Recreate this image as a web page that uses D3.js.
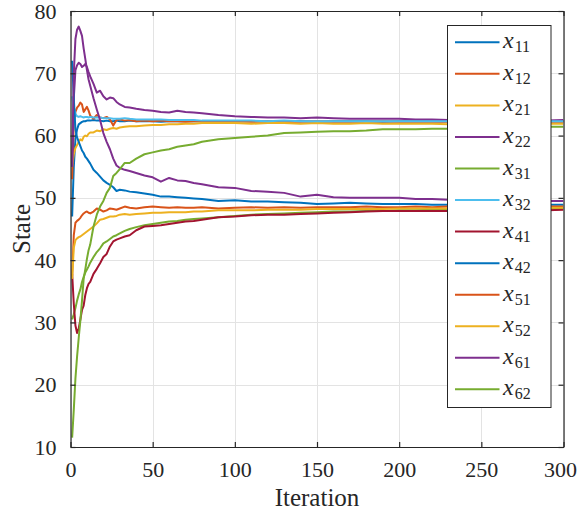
<!DOCTYPE html>
<html>
<head>
<meta charset="utf-8">
<script src="https://cdn.jsdelivr.net/npm/d3@7"></script>
<style>
  html, body { margin: 0; padding: 0; background: #fff; }
  svg { display: block; }
  text { font-family: "Liberation Serif", "Times New Roman", serif; fill: #262626; }
</style>
</head>
<body>
<div id="chart"></div>
<script>
// Iterations at which the states are sampled
const iters = [1,2,3,4,5,6,7,8,9,10,11,12,
  14,16,18,20,22,24,26,28,30,
  33,36,40,45,50,55,60,65,70,75,80,
  90,100,110,120,130,140,150,160,170,180,190,200,210,220,230,240,250,260,270,280,290,300];

// Series names (subscripts of x) in plotting order
const seriesNames = ["11","12","21","22","31","32","41","42","51","52","61","62"];

// MATLAB default colour order
const seriesColors = ["#0072BD","#D95319","#EDB120","#7E2F8E","#77AC30","#4DBEEE","#A2142F",
  "#0072BD","#D95319","#EDB120","#7E2F8E","#77AC30"];

const x11 = [47,55,59.5,61,61.8,62,62.2,62.3,62.3,62.4,62.4,62.4,
  62.5,62.4,62.4,62.3,62.4,62.3,62.3,62.4,62.3,
  62.3,62.4,62.3,62.3,62.3,62.2,62.3,62.3,62.3,62.3,62.3,
  62.2,62.3,62.3,62.2,62.3,62.3,62.2,62.3,62.3,62.3,62.2,62.3,62.3,62.3,62.3,62.2,62.3,62.3,62.3,62.3,62.3,62.3];
const x12 = [53,62,63.8,64.5,64.8,65.3,65,63.8,64.2,64.6,64,63.2,
  62.7,63.3,62.9,62.8,63,62.6,61.6,62.5,62.6,
  62.4,62.5,62.3,62.4,62.3,62.4,62.3,62.3,62.2,62.3,62.3,
  62.2,62.3,62.2,62.3,62.2,62.2,62.3,62.2,62.2,62.2,62.3,62.2,62.2,62.2,62.2,62.1,62.2,62.2,62.2,62.2,62.2,62.2];
const x21 = [55,57,58,58.5,59,59.4,59.2,59.8,60,59.9,60.3,60.5,
  60.5,60.8,60.7,61,60.9,61.1,61.2,61.1,61.3,
  61.4,61.5,61.5,61.6,61.7,61.7,61.8,61.8,61.9,61.9,62,
  62,62,61.9,62,62,61.9,62,61.9,61.9,62,61.9,61.9,61.9,61.9,61.8,61.9,61.9,61.9,61.9,61.8,61.9,61.9];
const x22 = [55,66,70.5,71.3,71.7,71.5,71,71.2,71.5,71,70.2,69.5,
  68.3,66.9,67.2,66.3,65.8,66.1,66,65.4,65,
  64.6,64.5,64.3,64.1,64,63.8,63.7,64,63.8,63.7,63.6,
  63.3,63.1,63,62.9,62.9,62.8,62.9,62.8,62.7,62.7,62.7,62.7,62.6,62.6,62.5,62.6,62.5,62.5,62.5,62.5,62.4,62.5];
const x31 = [30.5,31.3,32.3,33.5,34.5,35.3,36.5,37.3,38,38.5,39,39.6,
  40.5,41.3,41.9,42.7,43,43.4,43.8,44,44.3,
  44.7,45,45.3,45.6,45.8,46,46.2,46.3,46.5,46.6,46.7,
  46.9,47.1,47.3,47.4,47.5,47.6,47.7,47.8,47.8,47.9,47.9,48,48,48.1,48.1,48.1,48.2,48.2,48.2,48.2,48.3,48.3];
const x32 = [66.3,64.5,63.5,63.1,63,63.1,63,62.9,63,63,62.9,63,
  62.9,62.9,62.9,62.8,62.8,62.8,62.7,62.7,62.7,
  62.8,62.7,62.6,62.6,62.6,62.6,62.5,62.5,62.5,62.5,62.4,
  62.4,62.4,62.4,62.3,62.4,62.3,62.3,62.3,62.3,62.3,62.3,62.3,62.3,62.3,62.3,62.3,62.3,62.3,62.3,62.3,62.3,62.3];
const x41 = [37.8,33,29.5,28.3,29,30.5,32,32.7,34.4,35.5,36.2,36.5,
  37.8,38.6,39.5,40.5,41,42.2,43,43.3,43.5,
  43.8,44,44.8,45.4,45.5,45.6,45.8,46,46.2,46.3,46.5,
  46.9,47,47.2,47.3,47.3,47.4,47.5,47.6,47.7,47.8,47.9,47.9,47.9,47.9,47.9,48,48,48,48,48.1,48,48.1];
const x42 = [72,66,61,59.7,59,58.3,57.6,57.2,56.6,56.3,55.9,55.5,
  54.5,54,53.4,52.8,52.4,52.1,51.7,51.1,51.3,
  51.2,51,50.9,50.7,50.5,50.2,50.2,50.1,50,49.9,49.8,
  49.5,49.6,49.4,49.4,49.3,49.2,49,49.1,49.2,49.1,49,49,49,48.9,48.9,49,48.9,48.9,48.9,48.9,48.9,48.9];
const x51 = [37.5,44,46,46.3,46.5,46.8,47.2,47.5,47.7,47.8,47.6,47.5,
  47.8,48.3,48.1,47.8,48,48.3,48.2,48.1,48.3,
  48.6,48.4,48.3,48.5,48.6,48.5,48.4,48.5,48.4,48.4,48.5,
  48.3,48.4,48.5,48.4,48.5,48.4,48.5,48.5,48.5,48.6,48.5,48.5,48.6,48.5,48.6,48.6,48.6,48.6,48.6,48.6,48.6,48.6];
const x52 = [37,42,43.2,43.5,43.7,43.8,44,44.2,44.4,44.6,44.8,45,
  45.4,45.9,46.5,46.6,46.8,47,47,47.1,47.3,
  47.4,47.3,47.4,47.5,47.6,47.6,47.7,47.7,47.7,47.8,47.8,
  48,48,48,48.1,48.1,48.1,48.2,48.2,48.2,48.2,48.2,48.3,48.3,48.3,48.3,48.3,48.3,48.4,48.4,48.4,48.4,48.4];
const x61 = [55,70,75.5,77,77.5,76.8,76,74,72.3,70.5,69,68,
  66,64.2,62.5,60.4,59,57.8,56.3,55.2,54.8,
  54.5,54.3,54,53.6,53.3,52.6,53.2,52.8,52.7,52.4,52.2,
  51.7,51.6,51.1,51,50.8,50.2,50.5,50.1,50,50,50,50,49.8,49.8,49.7,49.7,49.6,49.6,49.5,49.6,49.5,49.5];
const x62 = [11.5,16,21,24.5,27.5,30.3,33.5,37,38.5,40.2,41.6,42.5,
  45.4,47.3,48.6,49.5,50.8,51.6,53.5,54,54.6,
  55.6,55.6,56.3,57,57.3,57.6,57.8,58.2,58.4,58.6,59,
  59.4,59.6,59.8,60,60.4,60.5,60.6,60.7,60.7,60.8,61,61,61,61.1,61.1,61.1,61.2,61.2,61.3,61.3,61.4,61.4];

const seriesValues = [x11,x12,x21,x22,x31,x32,x41,x42,x51,x52,x61,x62];

const xTicks = [0,50,100,150,200,250,300];
const yTicks = [10,20,30,40,50,60,70,80];

const W = 579, H = 515;
const plot = { left: 70.5, right: 563.5, top: 11, bottom: 447 };
const axisColor = "#262626";
const serif = '"Liberation Serif", "Times New Roman", serif';

const svg = d3.select("#chart").append("svg")
  .attr("width", W).attr("height", H);

const x = d3.scaleLinear().domain([0, 300]).range([plot.left, plot.right]);
const y = d3.scaleLinear().domain([10, 80]).range([plot.bottom, plot.top]);

// grid
const grid = svg.append("g").attr("stroke", "#e3e3e3").attr("stroke-width", 1);
grid.selectAll("line.gx").data(xTicks).join("line")
  .attr("x1", d => Math.round(x(d)) + 0.5).attr("x2", d => Math.round(x(d)) + 0.5)
  .attr("y1", plot.top).attr("y2", plot.bottom);
grid.selectAll("line.gy").data(yTicks).join("line")
  .attr("y1", d => Math.round(y(d)) + 0.5).attr("y2", d => Math.round(y(d)) + 0.5)
  .attr("x1", plot.left).attr("x2", plot.right);

// clip region for the state traces
svg.append("clipPath").attr("id", "plotClip").append("rect")
  .attr("x", plot.left).attr("y", plot.top)
  .attr("width", plot.right - plot.left).attr("height", plot.bottom - plot.top);

const line = d3.line().x((d, i) => x(iters[i])).y(d => y(d));

svg.append("g").attr("clip-path", "url(#plotClip)")
  .selectAll("path").data(seriesValues).join("path")
  .attr("fill", "none")
  .attr("stroke", (d, i) => seriesColors[i])
  .attr("stroke-width", 2)
  .attr("stroke-linejoin", "round")
  .attr("d", line);

// axes (ticks inward, box on)
const tickLen = 5;
const fontTick = 22;
const xAxis = d3.axisBottom(x).tickValues(xTicks).tickSizeInner(-tickLen).tickSizeOuter(0).tickPadding(14);
const yAxis = d3.axisLeft(y).tickValues(yTicks).tickSizeInner(-tickLen).tickSizeOuter(0).tickPadding(14);
const xTop = d3.axisTop(x).tickValues(xTicks).tickSizeInner(-tickLen).tickSizeOuter(0).tickFormat("");
const yRight = d3.axisRight(y).tickValues(yTicks).tickSizeInner(-tickLen).tickSizeOuter(0).tickFormat("");

function styleAxis(g) {
  g.attr("font-family", serif).attr("font-size", fontTick);
  g.select(".domain").attr("stroke", axisColor).attr("stroke-width", 1.2);
  g.selectAll(".tick line").attr("stroke", axisColor).attr("stroke-width", 1.2);
  g.selectAll(".tick text").attr("fill", axisColor)
    .style("font-family", serif).style("font-size", fontTick + "px");
}

const gx = svg.append("g").attr("transform", `translate(0,${plot.bottom})`).call(xAxis).call(styleAxis);
// keep the last x label inside the figure
gx.selectAll(".tick text").filter(d => d === 300).attr("text-anchor", "end").attr("x", 13);
svg.append("g").attr("transform", `translate(${plot.left},0)`).call(yAxis).call(styleAxis);
svg.append("g").attr("transform", `translate(0,${plot.top})`).call(xTop).call(styleAxis);
svg.append("g").attr("transform", `translate(${plot.right},0)`).call(yRight).call(styleAxis);

// axis labels
svg.append("text")
  .attr("x", (plot.left + plot.right) / 2).attr("y", 506)
  .attr("text-anchor", "middle").style("font-size", "25px")
  .text("Iteration");
svg.append("text")
  .attr("transform", `translate(30,${(plot.top + plot.bottom) / 2}) rotate(-90)`)
  .attr("text-anchor", "middle").style("font-size", "25px")
  .text("State");

// legend
const leg = { x: 447, y: 25, w: 103.5, h: 382 };
const legG = svg.append("g");
legG.append("rect")
  .attr("x", leg.x + 0.5).attr("y", leg.y + 0.5)
  .attr("width", leg.w).attr("height", leg.h)
  .attr("fill", "#fff").attr("stroke", axisColor).attr("stroke-width", 1);

const rowStep = 31.55;
const entries = legG.selectAll("g.entry").data(seriesNames).join("g")
  .attr("transform", (d, i) => `translate(0,${42.3 + i * rowStep})`);
entries.append("line")
  .attr("x1", 455).attr("x2", 499.5).attr("y1", 0).attr("y2", 0)
  .attr("stroke", (d, i) => seriesColors[i]).attr("stroke-width", 2);
const lbl = entries.append("text").attr("x", 503).attr("y", 6)
  .style("font-family", serif);
lbl.append("tspan").style("font-style", "italic").style("font-size", "24px").text("x");
lbl.append("tspan").attr("dx", 1).attr("dy", 4).style("font-size", "16px").text(d => d);
</script>
</body>
</html>
